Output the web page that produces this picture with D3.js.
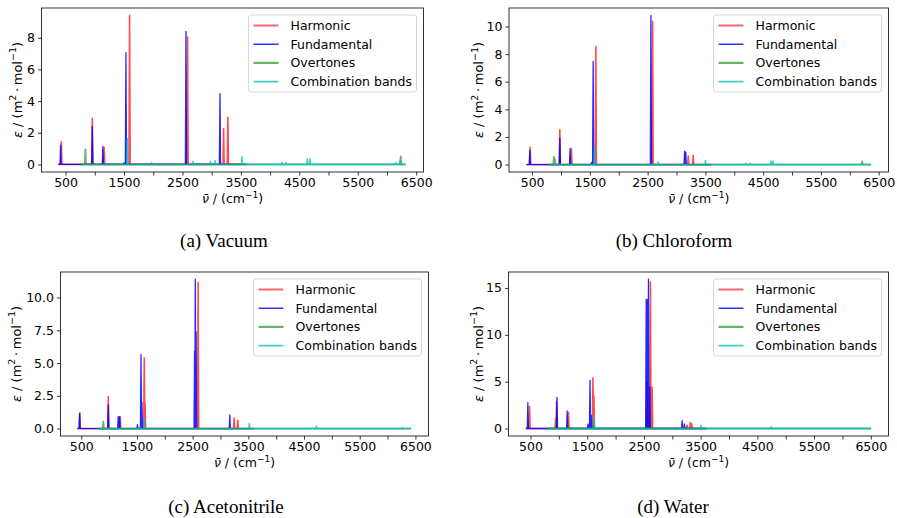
<!DOCTYPE html>
<meta charset="utf-8">
<script src="https://cdn.jsdelivr.net/npm/d3@7/dist/d3.min.js"></script>
<style>
  body { margin: 0; background: #fff; }
  text { font-family: "DejaVu Sans", sans-serif; fill: #000; }
  .caption { font-family: "Liberation Serif", serif; }
</style>
<div id="fig"></div>
<script>

// ---- data (wavenumber in cm^-1, epsilon in m^2/mol) ----
var seriesNames = ["Harmonic", "Fundamental", "Overtones", "Combination bands"];
var captions = ["(a) Vacuum", "(b) Chloroform", "(c) Acetonitrile", "(d) Water"];

var xTickValues = [500, 1000, 1500, 2000, 2500, 3000, 3500, 4000, 4500, 5000, 5500, 6000, 6500];
var xTickLabels = ["500", "", "1500", "", "2500", "", "3500", "", "4500", "", "5500", "", "6500"];

var yTicksVacuum = [0, 2, 4, 6, 8];
var yTicksChloroform = [0, 2, 4, 6, 8, 10];
var yTicksAcetonitrile = [0, 2.5, 5, 7.5, 10];
var yTicksWater = [0, 5, 10, 15];

// baseline extents [start, end] for each series
var rangesVacuum = [[376, 3600], [376, 3600], [770, 6320], [770, 6320]];
var rangesChloroform = [[403, 3600], [403, 3600], [800, 6368], [800, 6368]];
var rangesAcetonitrile = [[429, 3600], [429, 3600], [800, 6423], [800, 6423]];
var rangesWater = [[418, 3600], [418, 3600], [800, 6506], [800, 6506]];

// peaks [wavenumber, epsilon]
var vacuumHarmonic = [[427, 1.42], [957, 2.92], [1160, 1.07], [1595, 9.4], [2588, 8.04], [3204, 2.26], [3277, 2.97]];
var vacuumFundamental = [[415, 1.21], [957, 2.4], [1138, 1.13], [1500, 0.1], [1533, 7.06], [2560, 8.4], [3142, 4.47]];
var vacuumOvertones = [[839, 0.94], [6235, 0.5]];
var vacuumCombination = [[1556, 1.63], [1973, 0.12], [2684, 0.2], [2978, 0.2], [3057, 0.25], [3520, 0.5],
  [4203, 0.15], [4271, 0.12], [4637, 0.35], [4682, 0.35], [6150, 0.1], [6222, 0.25]];

var chloroformHarmonic = [[466, 1.25], [980, 2.54], [1180, 1.15], [1603, 8.54], [2586, 10.38], [3203, 0.62], [3289, 0.67]];
var chloroformFundamental = [[460, 1.03], [980, 1.92], [1157, 1.15], [1530, 0.15], [1557, 7.48], [2557, 10.8], [3140, 0.96], [3160, 0.9]];
var chloroformOvertones = [[877, 0.58], [894, 0.4], [6214, 0.22]];
var chloroformCombination = [[1580, 1.27], [2683, 0.2], [3500, 0.3], [4197, 0.1], [4277, 0.1], [4637, 0.25], [4671, 0.25]];

var acetonitrileHarmonic = [[476, 1.2], [986, 2.44], [1200, 0.9], [1632, 5.39], [1646, 2.0], [2599, 11.16], [3245, 0.8], [3310, 0.62]];
var acetonitrileFundamental = [[470, 1.13], [986, 1.81], [1164, 0.9], [1188, 0.9], [1510, 0.3], [1573, 5.64], [1590, 2.0],
  [2535, 5.9], [2548, 11.4], [2563, 7.4], [3168, 1.05]];
var acetonitrileOvertones = [[897, 0.53]];
var acetonitrileCombination = [[1632, 0.75], [3518, 0.38], [4721, 0.2], [6263, 0.08]];

var waterHarmonic = [[483, 2.33], [943, 1.06], [960, 2.9], [1170, 1.73], [1601, 5.4], [1618, 3.5], [2560, 4.9],
  [2614, 15.64], [2644, 4.4], [3261, 0.35], [3319, 0.64], [3343, 0.5]];
var waterFundamental = [[453, 2.75], [966, 3.32], [1147, 1.87], [1514, 0.46], [1549, 5.12], [1570, 1.4],
  [2540, 13.77], [2555, 13.77], [2580, 15.95], [2603, 4.4], [3174, 0.85], [3215, 0.5]];
var waterOvertones = [[1610, 0.3]];
var waterCombination = [[1618, 1.4], [3506, 0.35], [4747, 0.18]];

// ---- layout ----
var width = 897, height = 518;
var panels = [
  {L: 41.5, R: 423.5, T: 8, B: 172, x: [88, 6625], y: [-0.48, 9.88], ticks: yTicksVacuum, fmt: "d", ylab: 20,
   ranges: rangesVacuum, data: [vacuumHarmonic, vacuumFundamental, vacuumOvertones, vacuumCombination], cap: [224, 247]},
  {L: 509, R: 888.5, T: 8, B: 172, x: [100, 6670], y: [-0.54, 11.34], ticks: yTicksChloroform, fmt: "d", ylab: 26,
   ranges: rangesChloroform, data: [chloroformHarmonic, chloroformFundamental, chloroformOvertones, chloroformCombination], cap: [674, 247]},
  {L: 60.5, R: 428.5, T: 272, B: 436, x: [128, 6735], y: [-0.57, 11.95], ticks: yTicksAcetonitrile, fmt: ".1f", ylab: 40,
   ranges: rangesAcetonitrile, data: [acetonitrileHarmonic, acetonitrileFundamental, acetonitrileOvertones, acetonitrileCombination], cap: [226, 513]},
  {L: 508.5, R: 888.5, T: 272, B: 436, x: [112, 6812], y: [-0.8, 16.7], ticks: yTicksWater, fmt: "d", ylab: 26,
   ranges: rangesWater, data: [waterHarmonic, waterFundamental, waterOvertones, waterCombination], cap: [673, 513]}
];

// line styles per series
var styles = [
  {color: "#ff0000", width: 1.6, opacity: 0.7, legendWidth: 2, legendOpacity: 0.6},
  {color: "#0000ff", width: 1.3, opacity: 0.85, legendWidth: 1.2, legendOpacity: 1},
  {color: "#008000", width: 1.8, opacity: 0.6, legendWidth: 2.2, legendOpacity: 0.6},
  {color: "#00bfbf", width: 1.5, opacity: 0.75, legendWidth: 1.6, legendOpacity: 0.8}
];
var halfWidth = 10; // spike half width at the base, cm^-1

var svg = d3.select("#fig").append("svg")
  .attr("width", width).attr("height", height);

// baseline + spikes for one series
function spectrumPoints(peaks, range) {
  var pts = [[range[0], 0]];
  peaks.slice().sort(function(a, b) { return a[0] - b[0]; }).forEach(function(p) {
    pts.push([p[0] - halfWidth, 0], [p[0], p[1]], [p[0] + halfWidth, 0]);
  });
  pts.push([range[1], 0]);
  return pts;
}

panels.forEach(function(p, i) {
  var x = d3.scaleLinear().domain(p.x).range([p.L, p.R]);
  var y = d3.scaleLinear().domain(p.y).range([p.B, p.T]);
  var g = svg.append("g");

  g.append("clipPath").attr("id", "clip" + i)
    .append("rect").attr("x", p.L).attr("y", p.T).attr("width", p.R - p.L).attr("height", p.B - p.T);

  var line = d3.line().x(function(d) { return x(d[0]); }).y(function(d) { return y(d[1]); });

  // spectra
  var plot = g.append("g").attr("clip-path", "url(#clip" + i + ")");
  p.data.forEach(function(peaks, s) {
    plot.append("path")
      .attr("d", line(spectrumPoints(peaks, p.ranges[s])))
      .style("fill", "none")
      .style("stroke", styles[s].color)
      .style("stroke-width", styles[s].width)
      .style("stroke-opacity", styles[s].opacity)
      .style("stroke-linejoin", "round");
  });

  // axes
  var xAxis = d3.axisBottom(x).tickValues(xTickValues)
    .tickFormat(function(d, k) { return xTickLabels[k]; })
    .tickSizeInner(3.5).tickSizeOuter(0).tickPadding(3);
  var yAxis = d3.axisLeft(y).tickValues(p.ticks).tickFormat(d3.format(p.fmt))
    .tickSizeInner(3.5).tickSizeOuter(0).tickPadding(3);

  g.append("g").attr("transform", "translate(0," + p.B + ")").call(xAxis);
  g.append("g").attr("transform", "translate(" + p.L + ",0)").call(yAxis);
  g.selectAll(".domain").remove();
  g.selectAll(".tick line").style("stroke", "#000").style("stroke-width", 0.8);
  g.selectAll(".tick text").style("font-size", "12.5px").style("font-family", "DejaVu Sans");

  // frame
  g.append("rect").attr("x", p.L).attr("y", p.T).attr("width", p.R - p.L).attr("height", p.B - p.T)
    .style("fill", "none").style("stroke", "#000").style("stroke-width", 0.8);

  // x label
  var xl = g.append("text").attr("x", (p.L + p.R) / 2).attr("y", p.B + 31)
    .attr("text-anchor", "middle").style("font-size", "12.5px");
  xl.append("tspan").style("font-style", "italic").text("\u03BD\u0304");
  xl.append("tspan").text(" / (cm");
  xl.append("tspan").attr("dy", -5).style("font-size", "9px").text("\u22121");
  xl.append("tspan").attr("dy", 5).text(")");

  // y label
  var yl = g.append("text")
    .attr("transform", "translate(" + (p.L - p.ylab) + "," + ((p.T + p.B) / 2) + ") rotate(-90)")
    .attr("text-anchor", "middle").style("font-size", "13px");
  yl.append("tspan").style("font-style", "italic").text("\u03B5");
  yl.append("tspan").text(" / (m");
  yl.append("tspan").attr("dy", -5.5).style("font-size", "9.5px").text("2");
  yl.append("tspan").attr("dy", 5.5).text("\u2009\u00B7\u2009mol");
  yl.append("tspan").attr("dy", -5.5).style("font-size", "9.5px").text("\u22121");
  yl.append("tspan").attr("dy", 5.5).text(")");

  // legend
  var lw = 168, lh = 77;
  var lx = p.R - 7 - lw, ly = p.T + 7;
  var leg = g.append("g").attr("transform", "translate(" + lx + "," + ly + ")");
  leg.append("rect").attr("width", lw).attr("height", lh).attr("rx", 2.5)
    .style("fill", "#fff").style("fill-opacity", 0.8)
    .style("stroke", "#cccccc").style("stroke-width", 0.8);
  seriesNames.forEach(function(name, s) {
    var cy = 10.5 + s * 18.7;
    leg.append("line").attr("x1", 5).attr("x2", 30).attr("y1", cy).attr("y2", cy)
      .style("stroke", styles[s].color).style("stroke-width", styles[s].legendWidth)
      .style("stroke-opacity", styles[s].legendOpacity);
    leg.append("text").attr("x", 42).attr("y", cy + 4.5)
      .style("font-size", "12.5px").text(name);
  });

  // caption
  svg.append("text").attr("class", "caption")
    .attr("x", p.cap[0]).attr("y", p.cap[1])
    .attr("text-anchor", "middle").style("font-size", "19px")
    .text(captions[i]);
});

</script>
